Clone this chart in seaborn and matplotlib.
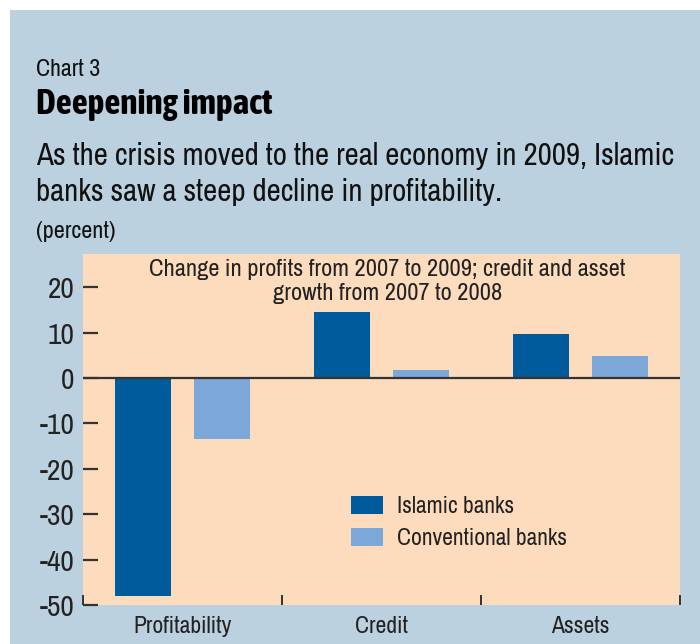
import matplotlib
matplotlib.use("Agg")
import matplotlib.pyplot as plt
import seaborn as sns
import pandas as pd
from matplotlib.patches import Rectangle, Patch
from matplotlib import font_manager

categories = ["Profitability", "Credit", "Assets"]
islamic = [-48.1, 14.5, 9.7]
conventional = [-13.5, 1.7, 4.8]
series_names = ["Islamic banks", "Conventional banks"]
yticks = [20, 10, 0, -10, -20, -30, -40, -50]

df = pd.DataFrame({
    "category": categories * 2,
    "value": islamic + conventional,
    "bank": [series_names[0]] * 3 + [series_names[1]] * 3,
})

sns.set_theme(style="white")
fonts = font_manager.fontManager.ttflist
names = sorted({f.name for f in fonts})
narrow = [n for n in names if ("Narrow" in n or "Condensed" in n)]
main_font = narrow[0] if narrow else "Roboto"
bold_narrow = [n for n in narrow
               if any(f.name == n and (f.weight in ("bold", 700) or (isinstance(f.weight, int) and f.weight >= 600)) for f in fonts)]
bold_font = bold_narrow[0] if bold_narrow else "Roboto"
plt.rcParams["font.family"] = [main_font, "DejaVu Sans"]

W, H = 700, 644
fig = plt.figure(figsize=(W / 100, H / 100), dpi=100)
fig.patch.set_facecolor("white")
fig.add_artist(Rectangle((10 / W, 0), 1, 1 - 10 / H, transform=fig.transFigure,
                         facecolor="#bcd1df", edgecolor="none", zorder=0))

ax = fig.add_axes([83 / W, 39 / H, 597 / W, 351 / H])
ax.set_facecolor("#fddbbd")

colors = {"Islamic banks": "#005b9c", "Conventional banks": "#7ba7d9"}
sns.barplot(data=df, x="category", y="value", hue="bank", order=categories,
            hue_order=series_names, palette=colors, saturation=1, width=0.8,
            gap=0.3, ax=ax, legend=False, zorder=2, linewidth=0, edgecolor="none")

ax.axhline(0, color="#333333", lw=1.6, zorder=3)
ax.set_xlim(-0.5, 2.5)
ax.set_ylim(-50, 27.3)
for s in ax.spines.values():
    s.set_visible(False)

renderer = fig.canvas.get_renderer()


def fit(t, target_px):
    bb = t.get_window_extent(renderer)
    t.set_fontsize(t.get_fontsize() * target_px / bb.width)


def size_for(text, target_px, **kw):
    p = fig.text(0, 0, text, fontsize=14, **kw)
    w = p.get_window_extent(renderer).width
    p.remove()
    return 14 * target_px / w


leg_size = size_for("Conventional banks", 170)
ytick_size = size_for("-50", 35)
xtick_size = size_for("Profitability", 98)

ax.set_yticks(yticks)
ax.set_yticklabels([str(v) for v in yticks])
ax.tick_params(axis="y", direction="in", length=11, width=1.6, color="#333333",
               left=True, labelsize=ytick_size, pad=6, labelcolor="#222222")
ax.set_xticks(range(3))
ax.set_xticklabels(categories)
ax.tick_params(axis="x", which="major", length=0, labelsize=xtick_size, pad=8,
               labelcolor="#222222")
ax.set_xticks([-0.5, 0.5, 1.5, 2.5], minor=True)
ax.tick_params(axis="x", which="minor", direction="in", length=7, width=1.4,
               color="#333333", bottom=True)
ax.set_xlabel("")
ax.set_ylabel("")

ann = ax.text(0.51, 0.985, "Change in profits from 2007 to 2009; credit and asset\ngrowth from 2007 to 2008",
              transform=ax.transAxes, ha="center", va="top", fontsize=13.5,
              color="#222222", linespacing=1.15)
fit(ann, 476)

k = leg_size / 14
handles = [Patch(facecolor=colors[n], edgecolor="none") for n in series_names]
fig.legend(handles, series_names, loc="upper left",
           bbox_to_anchor=(351 / W, 1 - 496 / H), frameon=False, fontsize=leg_size,
           handlelength=1.65 / k, handleheight=1.0 / k, handletextpad=0.7 / k,
           labelspacing=0.55 / k, borderpad=0, borderaxespad=0, labelcolor="#222222")

t1 = fig.text(36 / W, 1 - 70 / H, "Chart 3", fontsize=14, va="center", ha="left", color="#111111")
fit(t1, 64)
t2 = fig.text(36 / W, 1 - 104 / H, "Deepening impact", fontsize=20, fontweight="bold",
              family=[bold_font, "DejaVu Sans"], va="center", ha="left", color="#000000")
fit(t2, 236)
t3 = fig.text(36 / W, 1 - 174 / H,
              "As the crisis moved to the real economy in 2009, Islamic\nbanks saw a steep decline in profitability.",
              fontsize=18, va="center", ha="left", color="#111111", linespacing=1.35)
fit(t3, 640)
t4 = fig.text(36 / W, 1 - 232 / H, "(percent)", fontsize=12.5, va="center", ha="left", color="#111111")
fit(t4, 80)

fig.savefig("out.png", dpi=100)
